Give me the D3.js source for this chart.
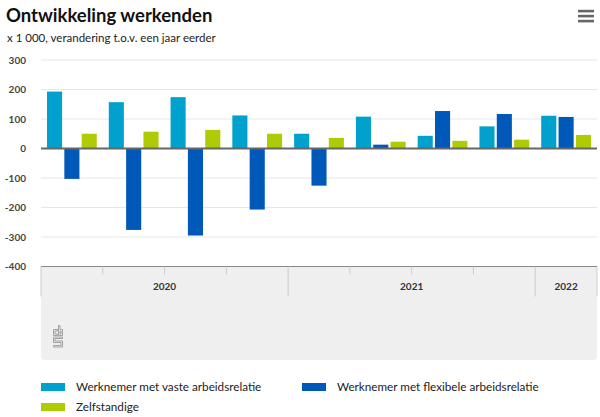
<!DOCTYPE html>
<html lang="nl">

<head>
    <meta charset="utf-8">
    <script src="https://cdn.jsdelivr.net/npm/d3@7"></script>
    <style>
        body {
            margin: 0;
            background: #fff;
        }

        text {
            font-family: Lato, "Noto Sans", sans-serif;
        }

        .grid line {
            stroke: #e6e6e6;
        }
    </style>
</head>

<body>
    <svg width="600" height="417"></svg>

    <script>
        // kwartalen, 2020 K1 t/m 2022 K1
        var quarters = ["2020K1", "2020K2", "2020K3", "2020K4", "2021K1", "2021K2", "2021K3", "2021K4", "2022K1"];
        var years = ["2020", "2021", "2022"];
        var yearQuarters = [4, 4, 1];
        var series = ["Werknemer met vaste arbeidsrelatie", "Werknemer met flexibele arbeidsrelatie", "Zelfstandige"];
        var colors = ["#00a1cd", "#0058b8", "#afcb05"];

        var vaste = [193, 157, 174, 112, 50, 108, 43, 75, 111];
        var flexibel = [-103, -276, -295, -207, -126, 13, 127, 117, 107];
        var zelfstandig = [50, 57, 63, 50, 36, 23, 26, 30, 46];

        var yTicks = [300, 200, 100, 0, -100, -200, -300, -400];

        var values = [vaste, flexibel, zelfstandig];

        var svg = d3.select("svg");
        var plotLeft = 41, plotRight = 597, plotTop = 60, plotBottom = 266.5;

        // titel
        svg.append("text")
            .attr("x", 6).attr("y", 22)
            .attr("font-size", 18.5).attr("font-weight", "bold")
            .attr("fill", "#111")
            .text("Ontwikkeling werkenden");

        svg.append("text")
            .attr("x", 7).attr("y", 42)
            .attr("font-size", 11.5).attr("fill", "#222")
            .text("x 1 000, verandering t.o.v. een jaar eerder");

        // menu knop
        [11, 16, 21].forEach(function (yy) {
            svg.append("rect")
                .attr("x", 578).attr("y", yy - 1.2)
                .attr("width", 16).attr("height", 2.6)
                .attr("fill", "#666");
        });

        //scales
        var x0 = d3.scaleBand().domain(quarters).range([plotLeft, plotRight]);
        var x1 = d3.scaleBand().domain(d3.range(3))
            .range([6, x0.bandwidth() - 6]).paddingInner(0.13);
        var y = d3.scaleLinear().domain([-400, 300]).range([plotBottom, plotTop]);

        // grijs vlak onder de as
        svg.append("path")
            .attr("d", "M" + plotLeft + "," + plotBottom + "H" + plotRight + "V" + 356 +
                "a4,4 0 0 1 -4,4H" + (plotLeft + 4) + "a4,4 0 0 1 -4,-4Z")
            .attr("fill", "#efefef");

        // gridlines
        svg.append("g")
            .attr("class", "grid")
            .selectAll("line")
            .data(yTicks.filter(function (d) { return d !== 0 && d !== -400; }))
            .enter().append("line")
            .attr("x1", plotLeft).attr("x2", plotRight)
            .attr("y1", function (d) { return y(d); })
            .attr("y2", function (d) { return y(d); });

        // y labels
        svg.append("g")
            .selectAll("text")
            .data(yTicks)
            .enter().append("text")
            .attr("x", 26)
            .attr("y", function (d) { return y(d) + 3.5; })
            .attr("text-anchor", "end")
            .attr("font-size", 10).attr("font-weight", "bold")
            .attr("fill", "#444")
            .text(function (d) { return d; });

        // bars
        var groups = svg.append("g")
            .selectAll("g")
            .data(quarters)
            .enter().append("g")
            .attr("transform", function (d) { return "translate(" + x0(d) + ",0)"; });

        groups.selectAll("rect")
            .data(function (d, i) { return values.map(function (v, s) { return { s: s, v: v[i] }; }); })
            .enter().append("rect")
            .attr("x", function (d) { return x1(d.s); })
            .attr("width", x1.bandwidth())
            .attr("y", function (d) { return y(Math.max(0, d.v)); })
            .attr("height", function (d) { return Math.abs(y(d.v) - y(0)); })
            .attr("fill", function (d) { return colors[d.s]; });

        // nullijn en as
        svg.append("line")
            .attr("x1", plotLeft).attr("x2", plotRight)
            .attr("y1", y(0)).attr("y2", y(0))
            .attr("stroke", "#666").attr("stroke-width", 2);

        svg.append("line")
            .attr("x1", plotLeft).attr("x2", plotRight)
            .attr("y1", plotBottom).attr("y2", plotBottom)
            .attr("stroke", "#888").attr("stroke-width", 1.2);

        // kwartaal ticks en jaar ticks
        var qi = 0;
        years.forEach(function (yr, k) {
            var start = x0(quarters[qi]);
            var end = x0(quarters[qi + yearQuarters[k] - 1]) + x0.bandwidth();
            svg.append("line")
                .attr("x1", start).attr("x2", start)
                .attr("y1", plotBottom).attr("y2", plotBottom + 30)
                .attr("stroke", "#ccc");
            for (var j = 1; j < yearQuarters[k]; j++) {
                var xq = x0(quarters[qi + j]);
                svg.append("line")
                    .attr("x1", xq).attr("x2", xq)
                    .attr("y1", plotBottom).attr("y2", plotBottom + 8)
                    .attr("stroke", "#ccc");
            }
            svg.append("text")
                .attr("x", (start + end) / 2).attr("y", 290)
                .attr("text-anchor", "middle")
                .attr("font-size", 10).attr("font-weight", "bold")
                .attr("fill", "#333")
                .text(yr);
            qi += yearQuarters[k];
        });
        svg.append("line")
            .attr("x1", plotRight).attr("x2", plotRight)
            .attr("y1", plotBottom).attr("y2", plotBottom + 30)
            .attr("stroke", "#ccc");

        // cbs logo
        var logo = svg.append("g")
            .attr("transform", "translate(53,325)")
            .attr("fill", "none").attr("stroke", "#999").attr("stroke-width", 0.9);
        logo.append("path").attr("d", "M0.5,4.5H4.5V6H2V9H4.5V10.5H0.5Z");
        logo.append("path").attr("d", "M5.5,0.5H7V4.5H9.5V10.5H5.5ZM7,6V9H8V6Z");
        logo.append("path").attr("d", "M0.5,12H9.5V13.5H2V16H9.5V22H0.5V20.5H8V17.5H0.5Z");

        // legenda
        var legend = svg.append("g");
        var legPos = [[41, 387], [302, 387], [41, 407]];
        series.forEach(function (name, i) {
            legend.append("rect")
                .attr("x", legPos[i][0]).attr("y", legPos[i][1] - 4)
                .attr("width", 24).attr("height", 8)
                .attr("fill", colors[i]);
            legend.append("text")
                .attr("x", legPos[i][0] + 35).attr("y", legPos[i][1] + 4)
                .attr("font-size", 11.7).attr("fill", "#222")
                .text(name);
        });
    </script>
</body>

</html>
